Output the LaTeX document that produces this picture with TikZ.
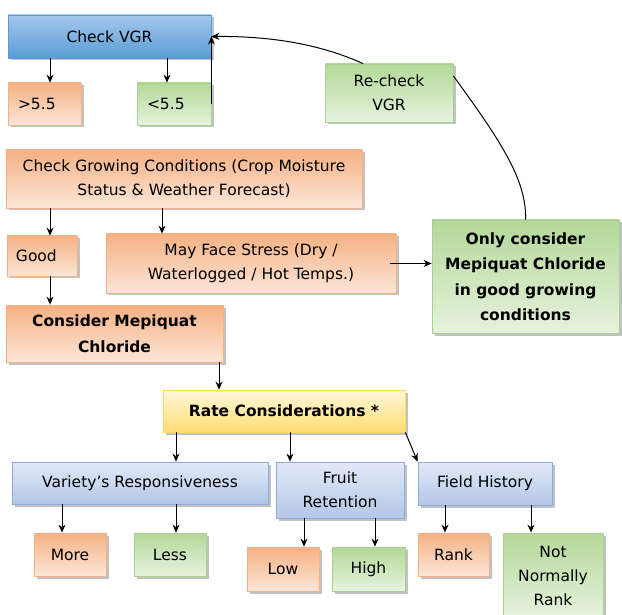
\documentclass[tikz,border=0pt]{standalone}
\usepackage{fontspec}
\setmainfont{DejaVu Sans}
\usetikzlibrary{shadows,arrows.meta}
\definecolor{orTop}{HTML}{F4B183}
\definecolor{orBot}{HTML}{FCE6D8}
\definecolor{orLine}{HTML}{F4B183}
\definecolor{grTop}{HTML}{B3D898}
\definecolor{grBot}{HTML}{E6F2DE}
\definecolor{grLine}{HTML}{A9D18E}
\definecolor{dbTop}{HTML}{A3C8EC}
\definecolor{dbBot}{HTML}{5B9BD5}
\definecolor{dbLine}{HTML}{5B9BD5}
\definecolor{lbTop}{HTML}{E1E9F7}
\definecolor{lbBot}{HTML}{B4C7E7}
\definecolor{lbLine}{HTML}{8FAADC}
\definecolor{yeTop}{HTML}{FFF7DA}
\definecolor{yeBot}{HTML}{FFDD72}
\definecolor{yeLine}{HTML}{FFD966}
\tikzset{
  box/.style={draw, line width=0.8pt, inner sep=2pt, align=center,
    font=\fontsize{15.5}{24}\selectfont,
    drop shadow={shadow xshift=2.5pt, shadow yshift=-2.5pt, opacity=0.4, fill=black!60}},
  orbox/.style={box, draw=orLine, top color=orTop, bottom color=orBot},
  grbox/.style={box, draw=grLine, top color=grTop, bottom color=grBot},
  dbbox/.style={box, draw=dbLine, top color=dbTop, bottom color=dbBot},
  lbbox/.style={box, draw=lbLine, top color=lbTop, bottom color=lbBot},
  yebox/.style={box, draw=yeLine, top color=yeTop, bottom color=yeBot},
  lefttext/.style={inner xsep=10pt, align=left},
  bf/.style={font=\fontsize{15.5}{25.5}\selectfont\bfseries},
  arr/.style={line width=1pt, -{Stealth[length=8pt,width=7pt]}},
  plain/.style={line width=1pt}
}
\begin{document}
\begin{tikzpicture}[x=1pt,y=-1pt]
\useasboundingbox (0,0) rectangle (622,615);
% nodes
\node[dbbox, minimum width=203pt, minimum height=43pt] (vgr) at (109.5,36.5) {Check VGR};
\node[orbox, lefttext, text width=53pt, minimum height=42pt] (gt) at (44.5,104) {>5.5};
\node[grbox, lefttext, text width=54pt, minimum height=42pt] (lt) at (174,104) {<5.5};
\node[grbox, minimum width=128pt, minimum height=58pt] (recheck) at (389,93) {Re-check\\VGR};
\node[orbox, minimum width=356pt, minimum height=58pt] (grow) at (184,179) {Check Growing Conditions (Crop Moisture\\Status \& Weather Forecast)};
\node[orbox, lefttext, text width=52pt, inner xsep=9pt, minimum height=40pt] (good) at (42,256) {Good};
\node[orbox, minimum width=290pt, minimum height=59pt] (stress) at (251,263.5) {May Face Stress (Dry /\\Waterlogged / Hot Temps.)};
\node[grbox, bf, minimum width=187pt, minimum height=113pt] (only) at (525.5,276.5) {Only consider\\Mepiquat Chloride\\in good growing\\conditions};
\node[orbox, bf, minimum width=217pt, minimum height=57pt] (consider) at (114.5,333.5) {Consider Mepiquat\\Chloride};
\node[yebox, bf, minimum width=242pt, minimum height=42pt] (rate) at (284,411) {Rate Considerations *};
\node[lbbox, minimum width=256pt, minimum height=42pt] (variety) at (140,483) {Variety’s Responsiveness};
\node[lbbox, minimum width=128pt, minimum height=56pt] (fruit) at (340,490) {Fruit\\Retention};
\node[lbbox, minimum width=134pt, minimum height=43pt] (field) at (485,483.5) {Field History};
\node[orbox, minimum width=72pt, minimum height=43pt] (more) at (70,554.5) {More};
\node[grbox, minimum width=72pt, minimum height=43pt] (less) at (170,554.5) {Less};
\node[orbox, minimum width=72pt, minimum height=44pt] (low) at (283,569) {Low};
\node[grbox, minimum width=73pt, minimum height=44pt] (high) at (368.5,569) {High};
\node[orbox, minimum width=71pt, minimum height=43pt] (rank) at (453.5,554.5) {Rank};
\node[grbox, minimum width=100pt, minimum height=85pt] (notn) at (553,575.5) {Not\\Normally\\Rank};
% helper x positions
\coordinate (x50) at (50,0);
\coordinate (x167) at (167,0);
\coordinate (x162) at (162,0);
\coordinate (x219) at (219,0);
\coordinate (x176) at (176,0);
\coordinate (x290) at (290,0);
\coordinate (x62) at (62,0);
\coordinate (x304) at (304,0);
\coordinate (x375) at (375,0);
\coordinate (x445) at (445,0);
\coordinate (x531) at (531,0);
% connectors
\draw[arr] (vgr.south -| x50) -- (gt.north -| x50);
\draw[arr] (vgr.south -| x167) -- (lt.north -| x167);
\draw[arr] (lt.east) -- (lt.east |- vgr.east);
\draw[arr] ([xshift=-26pt]recheck.north) .. controls (320,44) and (270,36) .. (vgr.east);
\draw[plain] ([yshift=17pt]recheck.east) .. controls (500,140) and (527,180) .. (only.north);
\draw[arr] (grow.south -| x50) -- (good.north -| x50);
\draw[arr] (grow.south -| x162) -- (stress.north -| x162);
\draw[arr] ([xshift=-6pt]stress.east) -- (only.west |- stress.east);
\draw[arr] (good.south -| x50) -- (consider.north -| x50);
\draw[arr] (consider.south -| x219) -- (rate.north -| x219);
\draw[arr] (rate.south -| x176) -- (variety.north -| x176);
\draw[arr] (rate.south -| x290) -- (fruit.north -| x290);
\draw[arr] (rate.south east) -- (field.north west);
\draw[arr] (variety.south -| x62) -- (more.north -| x62);
\draw[arr] (variety.south -| x176) -- (less.north -| x176);
\draw[arr] (fruit.south -| x304) -- (low.north -| x304);
\draw[arr] (fruit.south -| x375) -- (high.north -| x375);
\draw[arr] (field.south -| x445) -- (rank.north -| x445);
\draw[arr] (field.south -| x531) -- (notn.north -| x531);
\end{tikzpicture}
\end{document}
